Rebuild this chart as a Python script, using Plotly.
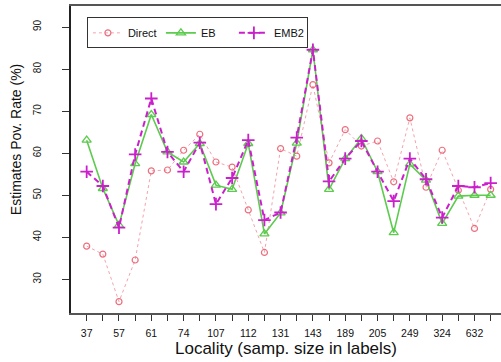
import plotly.graph_objects as go

# Locality sample sizes (only every other label is shown in the reference)
tick_labels = ["37", "", "57", "", "61", "", "74", "", "107", "", "112", "", "131",
               "", "143", "", "189", "", "205", "", "249", "", "324", "", "632", ""]
positions = list(range(1, 27))

direct = [37.9, 36.0, 24.7, 34.6, 55.8, 56.0, 60.7, 64.5, 57.9, 56.7, 46.5, 36.4, 61.1,
          59.3, 76.3, 57.7, 65.6, 61.7, 62.9, 53.2, 68.4, 51.9, 60.7, 51.2, 42.1, 51.4]
eb = [63.1, 51.6, 42.9, 57.5, 69.2, 60.3, 57.9, 62.3, 52.4, 51.4, 62.3, 40.8, 45.8,
      62.4, 84.6, 51.4, 58.7, 63.5, 55.6, 41.1, 57.4, 53.6, 43.3, 49.8, 50.0, 50.0]
emb2 = [55.6, 52.2, 42.3, 59.7, 73.0, 60.3, 55.6, 62.5, 47.9, 54.1, 63.1, 44.1, 45.9,
        63.7, 84.6, 53.3, 58.7, 62.9, 55.6, 48.6, 58.7, 53.8, 44.7, 52.2, 51.9, 52.9]

font = "Liberation Sans, Arial, sans-serif"

fig = go.Figure()
fig.add_trace(go.Scatter(
    x=positions, y=direct, name="Direct", mode="lines+markers",
    line=dict(color="#F4A3AC", width=1, dash="dot"),
    marker=dict(symbol="circle-open", size=6, color="#EC6F7E", line=dict(width=1.2)),
))
fig.add_trace(go.Scatter(
    x=positions, y=eb, name="EB", mode="lines+markers",
    line=dict(color="#5CCB4E", width=1.6),
    marker=dict(symbol="triangle-up-open", size=8, color="#5CCB4E", line=dict(width=1.3)),
))
fig.add_trace(go.Scatter(
    x=positions, y=emb2, name="EMB2", mode="lines+markers",
    line=dict(color="#CC1FCC", width=2, dash="6px,4px"),
    marker=dict(symbol="cross-thin-open", size=9, color="#CC1FCC", line=dict(width=1.8)),
))

fig.update_layout(
    width=501, height=362,
    margin=dict(l=71, r=0, t=6, b=49),
    paper_bgcolor="white", plot_bgcolor="white",
    font=dict(family=font, color="#111"),
    showlegend=True,
    legend=dict(
        orientation="h", x=0.037, y=0.963, xanchor="left", yanchor="top",
        bordercolor="#333", borderwidth=1, bgcolor="white",
        font=dict(size=11, family=font, color="#111"),
        entrywidth=28, entrywidthmode="pixels",
    ),
    xaxis=dict(
        range=[0.03, 26.64], tickmode="array", tickvals=positions, ticktext=tick_labels,
        showgrid=False, zeroline=False, showline=True, mirror=True,
        linecolor="#555", linewidth=1.5,
        ticks="outside", ticklen=6, tickcolor="#333", tickwidth=1,
        tickfont=dict(size=10.5, family=font, color="#111"),
        ticklabelstandoff=4,
        title=dict(text="Locality (samp. size in labels)", font=dict(size=17, family=font, color="#111"),
                   standoff=2),
    ),
    yaxis=dict(
        range=[22, 95], tickmode="array", tickvals=[30, 40, 50, 60, 70, 80, 90],
        showgrid=False, zeroline=False, showline=True, mirror=False,
        linecolor="#222", linewidth=1.5,
        ticks="outside", ticklen=7, tickcolor="#333", tickwidth=1,
        tickangle=-90,
        tickfont=dict(size=10, family=font, color="#111"),
        ticklabelstandoff=17,
    ),
    annotations=[dict(
        text="Estimates Pov. Rate (%)", xref="paper", yref="paper",
        x=(16 - 71) / 430, y=(313 - 140) / 307.3, textangle=-90,
        showarrow=False, xanchor="center", yanchor="middle",
        font=dict(size=14, family=font, color="#111"),
    )],
)

fig.write_html("out.html")
